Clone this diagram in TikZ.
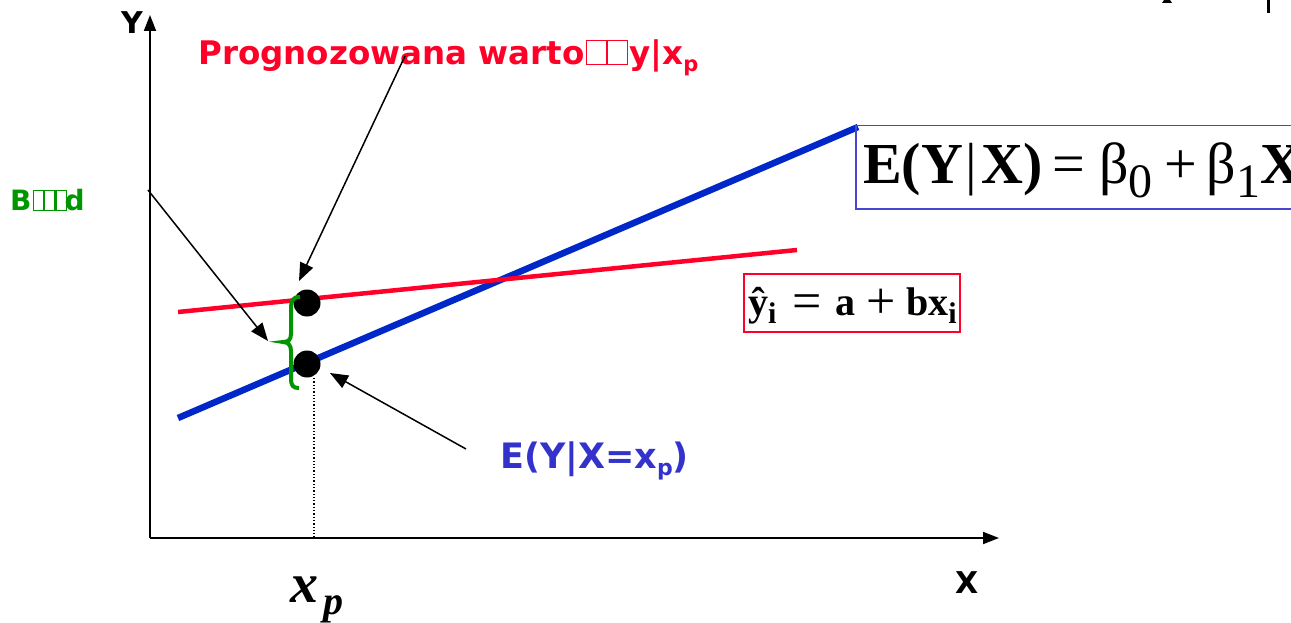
\documentclass[tikz,border=0pt]{standalone}
\usepackage{fontspec}
\setmainfont{Liberation Serif}
\newfontfamily\vsans{DejaVu Sans}
\usetikzlibrary{arrows.meta}
\definecolor{myred}{RGB}{255,0,40}
\definecolor{lineblue}{RGB}{0,40,200}
\definecolor{txtblue}{RGB}{51,51,204}
\definecolor{boxblue}{RGB}{70,70,210}
\definecolor{mygreen}{RGB}{0,150,0}
\newcommand{\tofu}[2]{\vbox{\hrule height1.2pt\hbox{\vrule width1.2pt height#2\kern#1\vrule width1.2pt}\hrule height1.2pt}}
\newcommand{\fs}[1]{\fontsize{#1}{#1}\selectfont}
\begin{document}
\begin{tikzpicture}[x=1pt,y=-1pt,
  lbl/.style={inner sep=0pt, anchor=base west},
  conn/.style={line width=1.5pt, -{Triangle[length=18pt,width=14pt]}},
  axis/.style={line width=1.8pt, -{Triangle[length=16pt,width=12pt]}},
  dot/.style={circle, fill=black, minimum size=27pt, inner sep=0pt},
  fbox/.style={line width=1.5pt, anchor=north west, inner sep=0pt}
]
\useasboundingbox (0,0) rectangle (1291,623);
% axes
\coordinate (O) at (150,538);
\coordinate (ytop) at (150,15);
\coordinate (xend) at (999,538);
\draw[axis] (O) -- (ytop);
\draw[axis] (O) -- (xend);
\node[lbl, font=\vsans\bfseries\fs{30}] (ylab) at (121,34) {Y};
\node[lbl, font=\vsans\bfseries\fs{30}] (xlab) at (955,593) {X};
% regression lines
\coordinate (b1) at (178,418);
\coordinate (b2) at (858,127);
\draw[lineblue, line width=6.5pt] (b1) -- (b2);
\coordinate (r1) at (178,312);
\coordinate (r2) at (797,250);
\draw[myred, line width=4.5pt] (r1) -- (r2);
% formula boxes
\node[fbox, draw=boxblue, minimum width=480pt, minimum height=83pt] (ebox) at (855,125) {};
\node[lbl] (eform) at (863,183) {\fs{58}\textbf{E(Y}\kern2pt|\kern5pt\textbf{X)}\,=\kern14pt β\raisebox{-14pt}{\fs{48}0}\kern12pt+\kern9pt β\raisebox{-14pt}{\fs{48}1}\textbf{X}};
\node[fbox, draw=myred, minimum width=216pt, minimum height=58pt] (ybox) at (743,273) {};
\node[lbl] (yform) at (748,315) {\fs{40}\textbf{ŷ}\raisebox{-8pt}{\fs{30}\textbf{i}}\kern16pt\raisebox{-3pt}{\fs{52}=}\kern14pt\textbf{a}\kern11pt\raisebox{-3pt}{\fs{52}+}\kern10pt\textbf{bx}\raisebox{-8pt}{\fs{30}\textbf{i}}};
% dots and dotted line
\node[dot] (top) at (307,303) {};
\node[dot] (bot) at (307,364) {};
\coordinate (dtop) at (314,378);
\coordinate (xpfoot) at (314,538);
\draw[dotted, line width=1.3pt] (dtop) -- (xpfoot);
% brace
\draw[mygreen, line width=4pt] (300,297) .. controls (292,297) and (291,301) .. (291,310) -- (291,334) .. controls (291,340) and (288,342) .. (283,342) .. controls (288,342) and (291,345) .. (291,351) -- (291,378) .. controls (291,386) and (293,388) .. (299,388);
% labels
\node[lbl, text=myred, font=\vsans\bfseries\fs{32.5}] (prog) at (198,65) {Prognozowana warto\kern1pt\tofu{19pt}{23pt}\tofu{19pt}{23pt}\kern1pt y|x\raisebox{-7pt}{\fs{21}p}};
\node[lbl, text=mygreen, font=\vsans\bfseries\fs{28}] (blad) at (10,211) {B\kern1pt\tofu{9pt}{19pt}\tofu{9pt}{19pt}\tofu{9pt}{19pt}\kern-2pt d};
\node[lbl, text=txtblue, font=\vsans\bfseries\fs{35}] (exp) at (500,468) {E(Y|X=x\raisebox{-7pt}{\fs{22}p})};
\node[lbl] (xp) at (290,602) {\fs{56}\bfseries\itshape x\kern5pt\raisebox{-12pt}{\fs{40}p}};
% connectors
\coordinate (a1s) at (405,56);
\coordinate (a1e) at (299,281);
\draw[conn] (a1s) -- (a1e);
\coordinate (a2s) at (148,190);
\coordinate (a2e) at (268,341);
\draw[conn] (a2s) -- (a2e);
\coordinate (a3s) at (466,449);
\coordinate (a3e) at (330,373);
\draw[conn] (a3s) -- (a3e);
% cut-off marks at top right
\fill (1162,3) -- (1172,3) -- (1170,0) -- (1164,0) -- cycle;
\fill (1267,0) rectangle (1270,13);
\end{tikzpicture}
\end{document}
